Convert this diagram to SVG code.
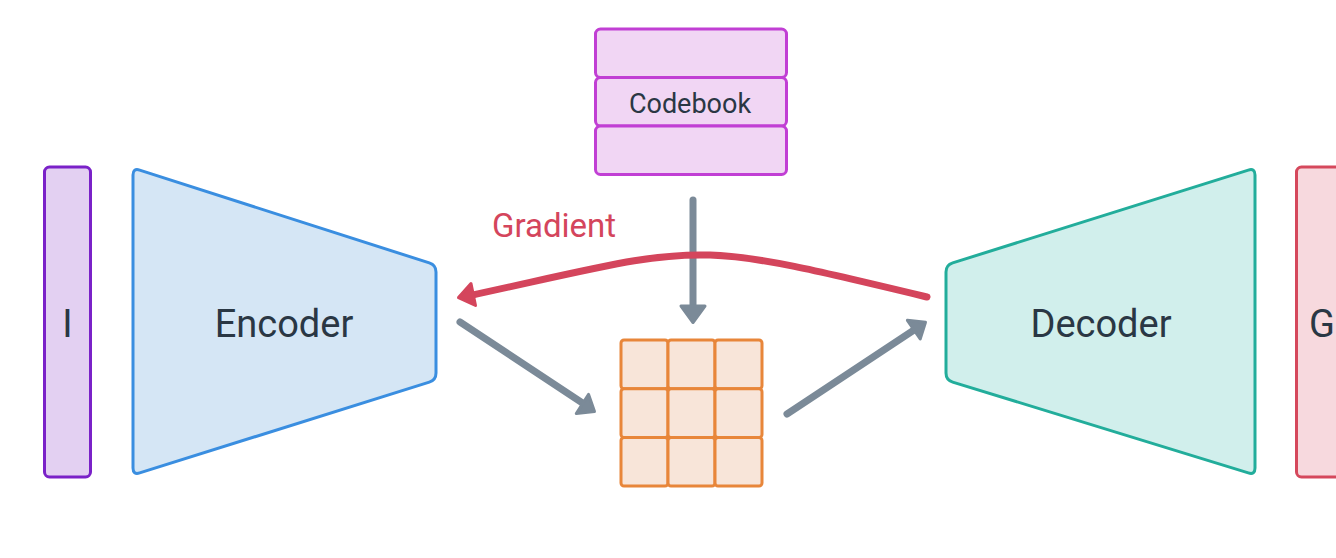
<svg xmlns="http://www.w3.org/2000/svg" width="1336" height="558" viewBox="0 0 1336 558">
<style>
  .lbl { font-family: Roboto, "Noto Sans", "Liberation Sans", sans-serif; fill: #2a3744; text-anchor: middle; }
  .big { font-size: 38px; }
  .shape { stroke-width: 3; stroke-linejoin: round; }
  .cell { fill: #f8e5d9; stroke: #e8863a; stroke-width: 3; }
  .cb { fill: #f1d6f4; stroke: #c13fd4; stroke-width: 3; }
  .conn { fill: none; stroke: #7b8a98; stroke-width: 7; stroke-linecap: round; stroke-linejoin: round; }
  .head { fill: #7b8a98; stroke: #7b8a98; stroke-width: 3; stroke-linejoin: round; }
  .grad { fill: none; stroke: #d4455c; stroke-width: 7; stroke-linecap: round; stroke-linejoin: round; }
  .gradhead { fill: #d4455c; stroke: #d4455c; stroke-width: 3; stroke-linejoin: round; }
</style>
<rect width="1336" height="558" fill="#ffffff"/>

<g id="input-I">
  <rect class="shape" x="44.5" y="167" width="46" height="310" rx="5" fill="#e3d0f2" stroke="#7a21c8"/>
  <text class="lbl big" x="67.5" y="337">I</text>
</g>

<g id="encoder">
  <path class="shape" fill="#d5e6f5" stroke="#3a8ee0" d="M133,175 Q133,168 139.7,170.1 L429.3,262.9 Q436,265 436,272 L436,373 Q436,380 429.3,382.1 L139.7,472.9 Q133,475 133,468 Z"/>
  <text class="lbl big" x="284" y="337">Encoder</text>
</g>

<g id="codebook">
  <rect class="cb" x="595.5" y="29" width="191" height="48.5" rx="5"/>
  <rect class="cb" x="595.5" y="77.5" width="191" height="48.5" rx="5"/>
  <rect class="cb" x="595.5" y="126" width="191" height="48.5" rx="5"/>
  <text class="lbl" x="690" y="113" font-size="27">Codebook</text>
</g>

<g id="latent-grid">
  <rect class="cell" x="621" y="340" width="47" height="48.7" rx="3"/>
  <rect class="cell" x="668" y="340" width="47" height="48.7" rx="3"/>
  <rect class="cell" x="715" y="340" width="47" height="48.7" rx="3"/>
  <rect class="cell" x="621" y="388.7" width="47" height="48.7" rx="3"/>
  <rect class="cell" x="668" y="388.7" width="47" height="48.7" rx="3"/>
  <rect class="cell" x="715" y="388.7" width="47" height="48.7" rx="3"/>
  <rect class="cell" x="621" y="437.4" width="47" height="48.7" rx="3"/>
  <rect class="cell" x="668" y="437.4" width="47" height="48.7" rx="3"/>
  <rect class="cell" x="715" y="437.4" width="47" height="48.7" rx="3"/>
</g>

<g id="decoder">
  <path class="shape" fill="#d1efec" stroke="#22ad9b" d="M1255,175 Q1255,168 1248.3,170.1 L952.7,262.9 Q946,265 946,272 L946,373 Q946,380 952.7,382.1 L1248.3,472.9 Q1255,475 1255,468 Z"/>
  <text class="lbl big" x="1101" y="337">Decoder</text>
</g>

<g id="output-G">
  <rect class="shape" x="1296.5" y="167" width="46" height="310" rx="5" fill="#f7d9de" stroke="#d5485c"/>
  <text class="lbl big" x="1322" y="337">G</text>
</g>

<g id="connectors">
  <path class="conn" d="M693,200 L693,310"/>
  <polygon class="head" points="681,306 705,306 693,322.5"/>

  <path class="conn" d="M460,322 L584,404"/>
  <polygon class="head" points="594.5,411.6 576.3,413.5 588.6,394.4"/>

  <path class="conn" d="M787,414 L914,330"/>
  <polygon class="head" points="925.5,322.3 907.4,320.3 920.2,339"/>

  <path class="grad" d="M927,297 C681,238 708,244 468,296"/>
  <polygon class="gradhead" points="458.5,297.6 471,283.5 475.5,305.5"/>
  <text x="554" y="237" font-size="33" fill="#d4455c" text-anchor="middle" font-family="Roboto, 'Noto Sans', 'Liberation Sans', sans-serif">Gradient</text>
</g>
</svg>
